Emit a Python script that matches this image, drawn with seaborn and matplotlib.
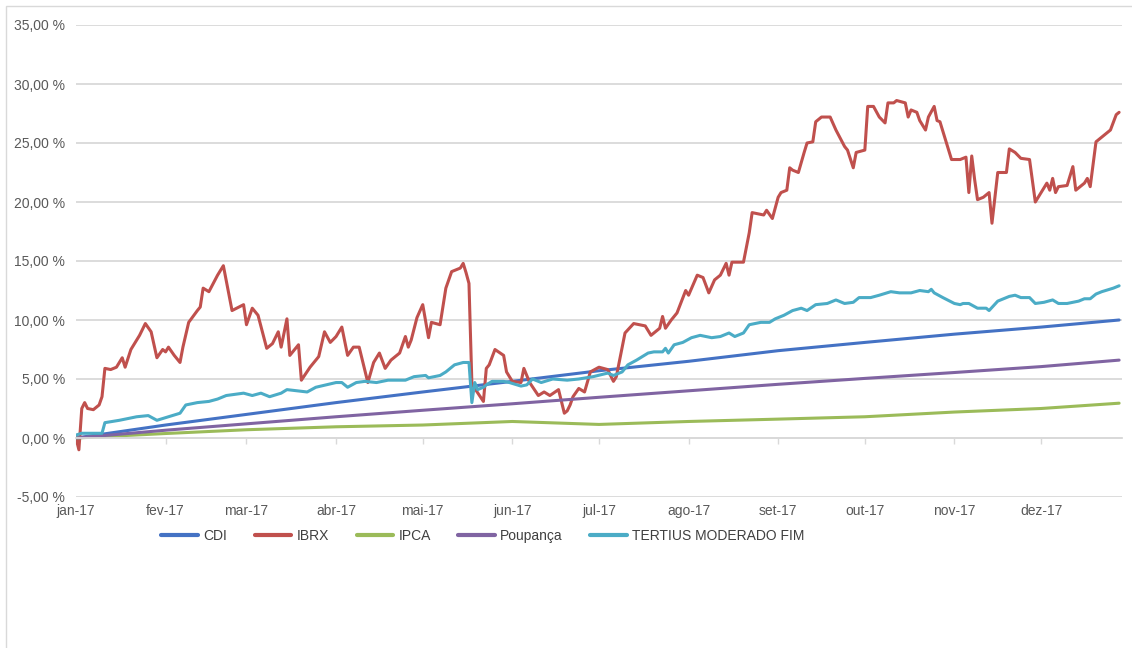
import matplotlib
matplotlib.use("Agg")
import matplotlib.pyplot as plt
import matplotlib.patches as mpatches
from matplotlib.ticker import FuncFormatter
import pandas as pd
import seaborn as sns

# ---------------- data (cumulative return, % ) ----------------
ibrx_dates = ["01-01", "01-02", "01-03", "01-04", "01-05", "01-07", "01-09", "01-10", "01-11", "01-13",
              "01-15", "01-17", "01-18", "01-20", "01-23", "01-25", "01-27", "01-29", "01-31", "02-01",
              "02-02", "02-04", "02-06", "02-07", "02-09", "02-12", "02-13", "02-14", "02-16", "02-19",
              "02-21", "02-24", "02-28", "03-01", "03-03", "03-05", "03-08", "03-10", "03-12", "03-13",
              "03-15", "03-16", "03-19", "03-20", "03-23", "03-26", "03-28", "03-30", "04-01", "04-03",
              "04-05", "04-07", "04-09", "04-12", "04-14", "04-16", "04-18", "04-20", "04-23", "04-25",
              "04-26", "04-27", "04-29", "05-01", "05-03", "05-04", "05-07", "05-09", "05-11", "05-14",
              "05-15", "05-16", "05-17", "05-18", "05-19", "05-22", "05-23", "05-24", "05-26", "05-29",
              "05-30", "06-01", "06-04", "06-05", "06-07", "06-10", "06-12", "06-14", "06-17", "06-19",
              "06-20", "06-21", "06-22", "06-24", "06-26", "06-28", "07-01", "07-04", "07-06", "07-07",
              "07-10", "07-13", "07-15", "07-17", "07-19", "07-22", "07-23", "07-24", "07-26", "07-28",
              "07-31", "08-01", "08-04", "08-06", "08-08", "08-10", "08-12", "08-14", "08-15", "08-16",
              "08-20", "08-22", "08-23", "08-27", "08-28", "08-30", "09-01", "09-02", "09-04", "09-05",
              "09-06", "09-08", "09-10", "09-11", "09-13", "09-14", "09-16", "09-19", "09-21", "09-24",
              "09-25", "09-27", "09-28", "10-01", "10-02", "10-04", "10-06", "10-08", "10-09", "10-11",
              "10-12", "10-15", "10-16", "10-17", "10-19", "10-20", "10-22", "10-23", "10-25", "10-26",
              "10-27", "10-31", "11-03", "11-05", "11-06", "11-07", "11-08", "11-09", "11-11", "11-13",
              "11-14", "11-16", "11-19", "11-20", "11-22", "11-24", "11-27", "11-29", "12-01", "12-03",
              "12-04", "12-05", "12-06", "12-07", "12-10", "12-12", "12-13", "12-16", "12-17", "12-18",
              "12-20", "12-22", "12-25", "12-27", "12-28"]
ibrx_vals = [0.0, -1.0, 2.5, 3.0, 2.5, 2.4, 2.8, 3.5, 5.9, 5.8,
             6.0, 6.8, 6.0, 7.5, 8.7, 9.7, 9.0, 6.8, 7.5, 7.3,
             7.7, 7.0, 6.4, 7.7, 9.8, 10.8, 11.1, 12.7, 12.4, 13.8,
             14.6, 10.8, 11.3, 9.6, 11.0, 10.4, 7.6, 8.0, 9.0, 7.7,
             10.1, 7.0, 7.9, 4.9, 6.0, 6.9, 9.0, 8.1, 8.6, 9.4,
             7.0, 7.7, 7.7, 4.7, 6.4, 7.2, 5.9, 6.6, 7.2, 8.6,
             7.7, 8.3, 10.2, 11.3, 8.5, 9.8, 9.6, 12.7, 14.1, 14.4,
             14.8, 14.0, 13.1, 4.7, 4.2, 3.1, 5.9, 6.2, 7.5, 7.0,
             5.6, 4.8, 4.7, 5.9, 4.7, 3.6, 3.9, 3.6, 4.1, 2.1,
             2.3, 2.8, 3.5, 4.2, 3.9, 5.6, 6.0, 5.8, 4.8, 5.2,
             8.9, 9.7, 9.6, 9.5, 8.7, 9.3, 10.3, 9.3, 10.0, 10.6,
             12.5, 12.1, 13.8, 13.6, 12.3, 13.4, 13.8, 14.8, 13.8, 14.9,
             14.9, 17.4, 19.1, 18.9, 19.3, 18.6, 20.4, 20.8, 21.0, 22.9,
             22.7, 22.5, 24.2, 25.0, 25.1, 26.8, 27.2, 27.2, 26.1, 24.7,
             24.4, 22.9, 24.2, 24.4, 28.1, 28.1, 27.2, 26.7, 28.4, 28.4,
             28.6, 28.4, 27.2, 27.8, 27.6, 26.9, 26.1, 27.2, 28.1, 26.9,
             26.8, 23.6, 23.6, 23.8, 20.8, 23.9, 21.9, 20.2, 20.4, 20.8,
             18.2, 22.5, 22.5, 24.5, 24.2, 23.7, 23.6, 20.0, 20.8, 21.6,
             21.0, 22.0, 20.8, 21.3, 21.4, 23.0, 21.0, 21.6, 22.0, 21.3,
             25.1, 25.5, 26.1, 27.4, 27.6]

tertius_dates = ["01-01", "01-03", "01-10", "01-11", "01-16", "01-22", "01-26", "01-29", "02-02", "02-06",
                 "02-08", "02-12", "02-16", "02-19", "02-22", "02-28", "03-03", "03-06", "03-09", "03-13",
                 "03-15", "03-22", "03-25", "04-01", "04-03", "04-05", "04-08", "04-11", "04-15", "04-19",
                 "04-25", "04-28", "05-02", "05-03", "05-07", "05-09", "05-12", "05-15", "05-17", "05-18",
                 "05-19", "05-20", "05-22", "05-23", "05-25", "05-29", "05-31", "06-04", "06-06", "06-08",
                 "06-11", "06-15", "06-20", "06-24", "06-29", "07-04", "07-06", "07-09", "07-11", "07-14",
                 "07-18", "07-20", "07-23", "07-24", "07-25", "07-27", "07-30", "08-02", "08-05", "08-09",
                 "08-12", "08-15", "08-17", "08-20", "08-22", "08-26", "08-29", "08-31", "09-03", "09-06",
                 "09-09", "09-11", "09-14", "09-18", "09-21", "09-24", "09-27", "09-29", "10-03", "10-06",
                 "10-10", "10-13", "10-17", "10-20", "10-23", "10-24", "10-25", "10-28", "11-01", "11-03",
                 "11-04", "11-06", "11-09", "11-12", "11-13", "11-16", "11-20", "11-22", "11-24", "11-27",
                 "11-29", "12-02", "12-05", "12-07", "12-10", "12-14", "12-16", "12-18", "12-20", "12-22",
                 "12-26", "12-28"]
tertius_vals = [0.25, 0.4, 0.4, 1.3, 1.5, 1.8, 1.9, 1.5, 1.8, 2.1,
                2.8, 3.0, 3.1, 3.3, 3.6, 3.8, 3.6, 3.8, 3.5, 3.8,
                4.1, 3.9, 4.3, 4.7, 4.7, 4.3, 4.7, 4.8, 4.7, 4.9,
                4.9, 5.2, 5.3, 5.1, 5.3, 5.6, 6.2, 6.4, 6.4, 3.0,
                4.7, 4.1, 4.3, 4.5, 4.8, 4.8, 4.7, 4.4, 4.5, 5.0,
                4.7, 5.0, 4.9, 5.0, 5.2, 5.5, 5.3, 5.6, 6.2, 6.6,
                7.2, 7.3, 7.3, 7.6, 7.2, 7.9, 8.1, 8.5, 8.7, 8.5,
                8.6, 8.9, 8.6, 8.9, 9.6, 9.8, 9.8, 10.1, 10.4, 10.8,
                11.0, 10.8, 11.3, 11.4, 11.7, 11.4, 11.5, 11.9, 11.9, 12.1,
                12.4, 12.3, 12.3, 12.5, 12.4, 12.6, 12.3, 11.9, 11.4, 11.3,
                11.4, 11.4, 11.0, 11.0, 10.8, 11.6, 12.0, 12.1, 11.9, 11.9,
                11.4, 11.5, 11.7, 11.4, 11.4, 11.6, 11.8, 11.8, 12.2, 12.4,
                12.7, 12.9]

ref_dates = ["01-01", "02-01", "03-01", "04-01", "05-01", "06-01", "07-01",
             "08-01", "09-01", "10-01", "11-01", "12-01", "12-28"]
cdi_vals = [0.0, 1.1, 2.0, 3.0, 3.9, 4.8, 5.7, 6.5, 7.4, 8.1, 8.8, 9.4, 10.0]
ipca_vals = [0.0, 0.38, 0.7, 0.95, 1.1, 1.4, 1.15, 1.4, 1.6, 1.8, 2.2, 2.5, 2.95]
poup_vals = [0.0, 0.66, 1.2, 1.8, 2.35, 2.9, 3.45, 4.0, 4.55, 5.05, 5.55, 6.05, 6.6]

series_names = ["CDI", "IBRX", "IPCA", "Poupança", "TERTIUS MODERADO FIM"]
series_colors = ["#4472C4", "#C0504D", "#9BBB59", "#8064A2", "#4BACC6"]

month_ticks = ["01-01", "02-01", "03-01", "04-01", "05-01", "06-01", "07-01",
               "08-01", "09-01", "10-01", "11-01", "12-01"]
month_labels = ["jan-17", "fev-17", "mar-17", "abr-17", "mai-17", "jun-17", "jul-17",
                "ago-17", "set-17", "out-17", "nov-17", "dez-17"]
y_ticks = [-5, 0, 5, 10, 15, 20, 25, 30, 35]

# ---------------- build long table ----------------
def to_dt(md):
    return pd.to_datetime(["2017-" + s for s in md])

frames = [
    pd.DataFrame({"data": to_dt(ref_dates), "valor": cdi_vals, "serie": "CDI"}),
    pd.DataFrame({"data": to_dt(ibrx_dates), "valor": ibrx_vals, "serie": "IBRX"}),
    pd.DataFrame({"data": to_dt(ref_dates), "valor": ipca_vals, "serie": "IPCA"}),
    pd.DataFrame({"data": to_dt(ref_dates), "valor": poup_vals, "serie": "Poupança"}),
    pd.DataFrame({"data": to_dt(tertius_dates), "valor": tertius_vals, "serie": "TERTIUS MODERADO FIM"}),
]
df = pd.concat(frames, ignore_index=True)

# ---------------- plot ----------------
sns.set_theme(style="white")
plt.rcParams["font.family"] = ["Liberation Sans", "DejaVu Sans"]

fig = plt.figure(figsize=(11.32, 6.48), dpi=100)
ax = fig.add_axes([76 / 1132, 1 - 497 / 648, (1122 - 76) / 1132, (497 - 25) / 648])

sns.lineplot(data=df, x="data", y="valor", hue="serie", hue_order=series_names,
             palette=dict(zip(series_names, series_colors)), estimator=None,
             linewidth=2.2, ax=ax, legend=True)

ax.set_ylim(-5, 35)
ax.set_xlim(pd.Timestamp("2017-01-01"), pd.Timestamp("2017-12-29"))
ax.set_yticks(y_ticks)
ax.yaxis.set_major_formatter(FuncFormatter(lambda v, p: f"{v:.2f}".replace(".", ",") + " %"))
ax.grid(axis="y", color="#D9D9D9", linewidth=1.3)
ax.grid(axis="x", visible=False)
ax.set_axisbelow(True)
for s in ["top", "right", "left"]:
    ax.spines[s].set_visible(False)

# category axis crossing at 0 with small tick marks
ax.spines["bottom"].set_position(("data", 0))
ax.spines["bottom"].set_color("#D9D9D9")
ax.spines["bottom"].set_linewidth(1.3)
ax.set_xticks(to_dt(month_ticks))
ax.tick_params(axis="x", length=4, width=1, color="#D9D9D9", direction="out",
               labelbottom=False, bottom=True)
ax.tick_params(axis="y", length=0, pad=8, labelsize=10, labelcolor="#595959")

sec = ax.secondary_xaxis("bottom")
sec.set_xticks(to_dt(month_ticks), month_labels)
sec.tick_params(axis="x", length=0, pad=5, labelsize=10, labelcolor="#595959")
sec.spines["bottom"].set_visible(False)

ax.set_xlabel("")
ax.set_ylabel("")

leg = ax.legend(loc="center", bbox_to_anchor=(483 / 1132, 1 - 536 / 648),
                bbox_transform=fig.transFigure, ncol=5, frameon=False,
                fontsize=10, handlelength=2.6, handletextpad=0.4, columnspacing=2.0,
                borderaxespad=0)
for t in leg.get_texts():
    t.set_color("#404040")
for l in leg.get_lines():
    l.set_linewidth(3)

# outer chart border (left and top visible)
fig.add_artist(mpatches.Rectangle((6 / 1132, -0.1), 1.5, 1.1 - 6 / 648,
                                  transform=fig.transFigure, fill=False,
                                  edgecolor="#D9D9D9", linewidth=1))

fig.savefig("out.png", dpi=100)
